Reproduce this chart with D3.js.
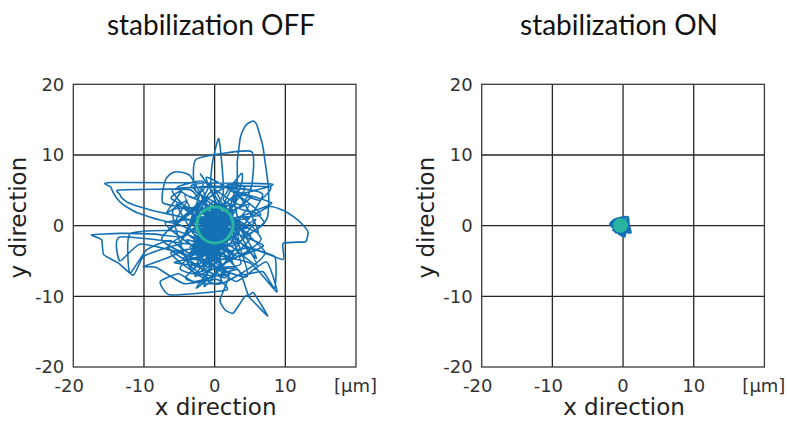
<!DOCTYPE html>
<html><head><meta charset="utf-8">
<script src="https://cdn.jsdelivr.net/npm/d3@7/dist/d3.min.js"></script>
<style>
html,body{margin:0;padding:0;background:#fff;}
svg{display:block;}
</style></head>
<body>
<svg id="chart" width="787" height="421"></svg>
<script>
// ---- data ----
const panelTitles = ["stabilization OFF", "stabilization ON"];
const xTicks = [-20, -10, 0, 10];
const yTicks = [-20, -10, 0, 10, 20];
const gridValues = [-10, 0, 10];
const unitLabel = "[\u03bcm]";
const xTitle = "x direction";
const yTitle = "y direction";
const domainLimits = [-20, 20];

// trajectory without stabilization (x, y in µm)
const offPath = [
[0.3,0.4],[-1.5,2.1],[1.2,-1.7],[-2.4,-0.5],[1.8,1.3],[-0.6,-2.9],[2.5,-0.3],[-1.9,2.4],[0.5,-1.1],[-2.8,-2.6],[1.0,2.8],[2.9,-2.3],[-1.1,0.2],[0.7,-3.8],[-3.3,1.0],[2.0,3.2],[-1.5,-1.8],[3.4,0.8],[-2.3,-4.1],[0.2,1.6],
[-2.1,3.4],[-3.6,5.1],[-13.5,5.05],[-13.4,4.4],[-13.2,4.0],[-12.5,3.4],[-11.6,3.0],[-10.0,2.5],[-8.2,2.0],[-5.0,1.3],[-2.7,0.4],[-0.8,-1.4],[1.6,0.9],[-1.3,-3.2],[0.9,2.2],
[2.8,4.2],[8.0,5.9],[-14.7,6.1],[-14.7,5.5],[-14.3,4.6],[-13.8,3.8],[-13.0,3.0],[-12.2,2.5],[-11.1,1.9],[-10.0,1.5],[-8.8,1.1],[-7.7,0.8],[-4.9,0.1],[-2.2,-1.2],[0.4,-2.4],[-1.7,1.1],[2.3,-1.6],[-0.3,3.0],[1.4,-4.3],[-2.9,-1.9],[3.1,2.1],
[-4.6,2.6],[-7.3,3.2],[-7.4,4.5],[-7.2,5.6],[-6.9,6.6],[-6.4,7.2],[-5.7,7.6],[-5.0,7.6],[-4.1,7.4],[-3.4,7.0],[-2.0,4.5],[-0.6,1.0],[1.9,-2.7],[-3.5,-3.1],[0.8,0.1],[-1.2,-4.6],[2.6,1.7],
[-2.6,4.8],[-2.6,9.4],[5.2,10.5],[5.2,5.5],[3.6,2.9],[-0.4,5.6],[-0.3,9.0],[0.6,12.3],[1.2,4.5],[-1.8,-0.7],[1.3,-3.3],[-2.5,1.8],[0.1,-0.6],[3.5,-1.1],[-0.9,2.6],
[2.9,3.0],[3.2,6.9],[3.2,9.0],[3.4,10.7],[3.6,12.3],[4.0,13.5],[4.6,14.4],[5.45,14.8],[5.9,14.4],[6.2,13.5],[6.8,11.3],[7.1,9.3],[7.6,5.5],[7.6,2.2],[7.3,0.8],[5.8,-0.6],[2.4,-2.9],[-0.5,-1.6],[1.7,1.9],[-2.2,-2.2],[0.9,-4.9],[-1.6,0.6],
[-4.4,-1.6],[-8.5,-1.2],[-13.4,-1.1],[-17.4,-1.3],[-16.0,-2.0],[-15.7,-4.1],[-13.6,-5.3],[-11.5,-7.0],[-10.1,-4.4],[-7.0,-3.2],[-3.8,-2.5],[-1.0,-3.6],[1.5,-0.7],[-2.6,-4.8],[0.4,2.5],[-1.9,-1.3],[2.2,-3.9],
[-5.2,-0.8],[-12.0,-1.2],[-12.0,-6.7],[-9.6,-3.4],[-6.3,-2.1],[-3.1,-4.2],[-0.2,-2.0],[-2.7,0.9],[1.1,-5.6],[-1.4,-3.0],[-13.4,-1.6],[-13.4,-5.0],[-10.5,-2.6],[-4.8,-3.9],[-2.0,-5.9],[0.6,-2.8],[-3.2,-1.0],
[1.8,0.6],[4.5,1.0],[7.8,2.7],[9.6,2.2],[11.1,1.3],[12.4,0.2],[13.2,-0.85],[13.1,-1.7],[12.8,-2.3],[9.7,-2.5],[9.7,-4.8],[6.0,-3.5],[3.3,-4.4],[0.5,-2.3],[-1.7,-4.0],[1.9,-1.2],[-0.8,-5.3],[2.8,-5.9],[-0.4,0.7],
[4.2,-2.8],[8.5,-4.4],[8.5,-8.85],[6.8,-6.5],[4.0,-6.9],[1.6,-4.6],[-1.9,-6.4],[0.9,-3.2],[-2.4,-3.6],[5.0,-5.3],[8.8,-9.4],[7.3,-5.1],[3.1,-7.9],[0.2,-6.1],[-3.5,-6.8],[-0.6,-4.3],
[2.0,-7.0],[0.75,-10.5],[1.45,-11.9],[2.6,-12.4],[3.6,-11.0],[4.6,-9.9],[7.5,-12.8],[5.5,-9.5],[4.75,-9.8],[3.3,-6.2],[-0.9,-7.4],[-3.8,-5.2],[-1.3,-2.4],[1.2,-6.6],[-2.9,-7.9],
[-5.1,-6.8],[-7.7,-7.9],[-6.3,-9.8],[1.7,-9.1],[0.3,-7.6],[-4.3,-8.2],[-8.3,-5.9],[-10.1,-5.8],[-6.8,-4.6],[-3.4,-3.3],[-0.5,-5.7],[-2.1,-2.0],[0.4,-4.0],
[-1.5,4.6],[-2.0,5.5],[7.8,5.5],[6.3,3.6],[3.5,4.7],[8.1,3.2],[4.8,2.0],[1.2,3.7],[3.8,7.4],[3.8,5.9],[2.0,1.0],[5.6,1.9],[7.0,0.3],[4.1,-1.3],[2.7,3.9],[5.2,4.1],[0.6,0.9],
[-6.1,3.8],[-4.7,4.9],[-6.8,1.8],[-3.9,3.6],[-5.6,0.5],[-2.4,2.6],[-6.5,-0.7],[-4.1,1.6],[-1.0,4.1],[-4.8,-2.3],[-0.7,5.8],[-3.0,3.9],[-5.3,5.4],[-1.6,6.2],[-3.7,-0.3],[-0.2,3.4],
[1.1,-0.3],[-0.8,-0.2],[0.4,1.2],[-1.3,1.5],[0.9,-1.9],[-0.6,-1.1],[2.1,0.2],[-2.0,0.5],[0.2,-2.3],[1.4,2.0],[-1.7,-1.4],[0.6,0.3],[-0.4,2.1],[1.8,-0.9],[-2.2,1.3],[0.0,-1.5],[1.0,1.1],[-1.0,-0.5],[2.3,1.5],[-1.4,-2.6],[0.7,-0.8],[-0.3,0.8],[1.5,-2.4],[-2.5,-0.2],[0.3,2.4],
[-1.8,-3.5],[-3.0,-2.9],[-2.3,-4.6],[-1.1,-3.9],[-3.6,-4.0],[-2.0,-2.7],[-0.6,-4.9],[-3.2,-5.5],[-1.5,-5.1],[-2.7,-3.3],[0.3,-3.4],[-3.9,-2.0],[-1.6,-4.4],[-2.4,-1.6],[0.8,-4.1],[-0.9,-2.7],[2.0,-4.7],[-4.5,-4.6],[1.2,-2.0],[-0.2,0.1],
[3.9,1.2],[6.6,-1.9],[4.4,-3.9],[6.9,-2.8],[2.5,-1.0],[5.9,-4.6],[3.0,0.4],[-2.5,-1.0],[4.7,-0.3],[1.3,1.6],
[-5.9,2.2],[-3.1,-6.3],[2.4,5.1],[6.1,-1.0],[-4.2,4.3],[1.6,-7.3],[-6.6,-2.9],[4.9,3.0],[-2.8,-7.1],[5.4,-3.1],[-5.7,-5.2],[3.7,-5.4],[-1.2,6.8],[6.5,1.5],[-7.0,0.4],[2.1,-6.8],[-4.9,-6.0],[4.3,5.2],[-3.3,5.6],[7.1,-3.7],
[0.4,-8.3],[-6.2,-3.8],[3.4,-2.1],[-2.0,7.3],[6.0,-5.6],[-5.4,3.1],[1.0,-7.8],[-4.1,-7.3],[5.8,0.9],[-1.5,-8.6],[3.0,6.1],[-7.5,-1.9],[4.6,-7.2],[0.0,5.0],[-3.8,-1.1],[2.9,-4.6],[-6.0,5.0],[6.8,4.4],[-2.6,-8.8],[5.1,-1.7],
[0.9,0.5],[-1.9,-0.9],[1.6,-1.5],[-0.7,1.8],[2.2,-0.6],[-2.3,1.0],[0.3,-1.8],[1.9,1.1],[-1.0,-2.1],[-0.2,2.4],[2.4,0.8],[-2.0,-1.6],[1.0,-2.6],[-1.5,0.4],[0.5,1.7],[1.3,-1.1],[-2.6,0.7],[0.8,2.0],[-0.9,-1.3],[2.0,-2.0],[-1.7,2.0],[0.1,-0.3],[1.7,0.4],[-1.2,1.1],[0.6,-1.4]
];

// trajectory with stabilization
const onPath = [
[-0.4,0.1],[-1.2,0.6],[0.3,0.9],[-0.9,-0.6],[0.6,-0.4],[-1.5,0.2],[-0.2,1.1],[0.5,0.5],[-1.1,-0.9],[0.2,-1.0],[-1.8,0.1],[-1.3,0.8],[0.1,1.2],[0.7,1.2],[0.8,0.2],[1.1,-1.0],[0.4,-0.9],[0.2,-1.55],[-0.5,-1.2],[-1.2,-0.4],[-1.6,-0.1],[-0.8,0.9],[0.6,-0.2],[-0.3,-0.7],[-1.0,0.3],[0.3,0.4],[-0.6,1.0],[0.9,-0.7],[-1.4,-0.6],[0.0,-1.3],[0.5,0.9],[-1.6,0.5],[-0.1,0.0]
];

// target circles: [cx, cy, r]
const offTarget = [0.05, 0.1, 2.55];
const onTarget = [-0.35, 0.05, 1.05];

// ---- drawing ----
const svg = d3.select("#chart");
const size = 282.7;
const panels = [
  {x0: 73.3, y0: 84.3, title: panelTitles[0], path: offPath, target: offTarget, filled: false, titleX: 211},
  {x0: 481.7, y0: 84.3, title: panelTitles[1], path: onPath, target: onTarget, filled: true, titleX: 619}
];
const lineColor = "#1370b2";
const teal = "#29b3a1";
const gridColor = "#262626";
const textColor = "#333";

panels.forEach(p => {
  const x = d3.scaleLinear().domain(domainLimits).range([0, size]);
  const y = d3.scaleLinear().domain(domainLimits).range([size, 0]);
  const g = svg.append("g").attr("transform", `translate(${p.x0},${p.y0})`);

  // title
  svg.append("text").attr("x", p.titleX).attr("y", 35)
    .attr("text-anchor", "middle").attr("font-family", "Lato, sans-serif")
    .attr("font-size", 28).attr("fill", "#111").text(p.title);

  // grid
  g.selectAll(".gx").data(gridValues).enter().append("line")
    .attr("x1", d => x(d)).attr("x2", d => x(d)).attr("y1", 0).attr("y2", size)
    .attr("stroke", gridColor).attr("stroke-width", 1.3);
  g.selectAll(".gy").data(gridValues).enter().append("line")
    .attr("y1", d => y(d)).attr("y2", d => y(d)).attr("x1", 0).attr("x2", size)
    .attr("stroke", gridColor).attr("stroke-width", 1.3);
  // frame
  g.append("rect").attr("x", 0).attr("y", 0).attr("width", size).attr("height", size)
    .attr("fill", "none").attr("stroke", "#3a3a3a").attr("stroke-width", 1.3);

  // y tick labels
  g.selectAll(".yl").data(yTicks).enter().append("text")
    .attr("x", -9).attr("y", d => y(d)).attr("dy", "0.36em")
    .attr("text-anchor", "end").attr("font-family", "DejaVu Sans, sans-serif")
    .attr("font-size", 18).attr("fill", textColor).text(d => d);
  // x tick labels
  g.selectAll(".xl").data(xTicks).enter().append("text")
    .attr("x", d => x(d) - (d < 0 ? 4 : 0)).attr("y", size + 25.5)
    .attr("text-anchor", "middle").attr("font-family", "DejaVu Sans, sans-serif")
    .attr("font-size", 18).attr("fill", textColor).text(d => d);
  g.append("text").attr("x", x(20) + 21).attr("y", size + 25.5)
    .attr("text-anchor", "end").attr("font-family", "DejaVu Sans, sans-serif")
    .attr("font-size", 18).attr("fill", textColor).text(unitLabel);

  // axis titles
  g.append("text").attr("x", x(0) + 1).attr("y", size + 48.5)
    .attr("text-anchor", "middle").attr("font-family", "DejaVu Sans, sans-serif")
    .attr("font-size", 23).attr("fill", "#222").text(xTitle);
  g.append("text").attr("transform", `translate(${-47.5},${y(0) - 8}) rotate(-90)`)
    .attr("text-anchor", "middle").attr("font-family", "DejaVu Sans, sans-serif")
    .attr("font-size", 23).attr("fill", "#222").text(yTitle);

  // trajectory
  const line = d3.line().x(d => x(d[0])).y(d => y(d[1])).curve(d3.curveCardinal.tension(0.5));
  g.append("path").datum(p.path).attr("d", line)
    .attr("fill", "none").attr("stroke", lineColor)
    .attr("stroke-width", p.filled ? 2.2 : 1.6).attr("stroke-linejoin", "round");

  // target circle
  const [cx, cy, r] = p.target;
  g.append("circle").attr("cx", x(cx)).attr("cy", y(cy))
    .attr("r", x(r) - x(0))
    .attr("fill", p.filled ? teal : "none")
    .attr("stroke", teal).attr("stroke-width", p.filled ? 0 : 3);
});
</script>
</body></html>
